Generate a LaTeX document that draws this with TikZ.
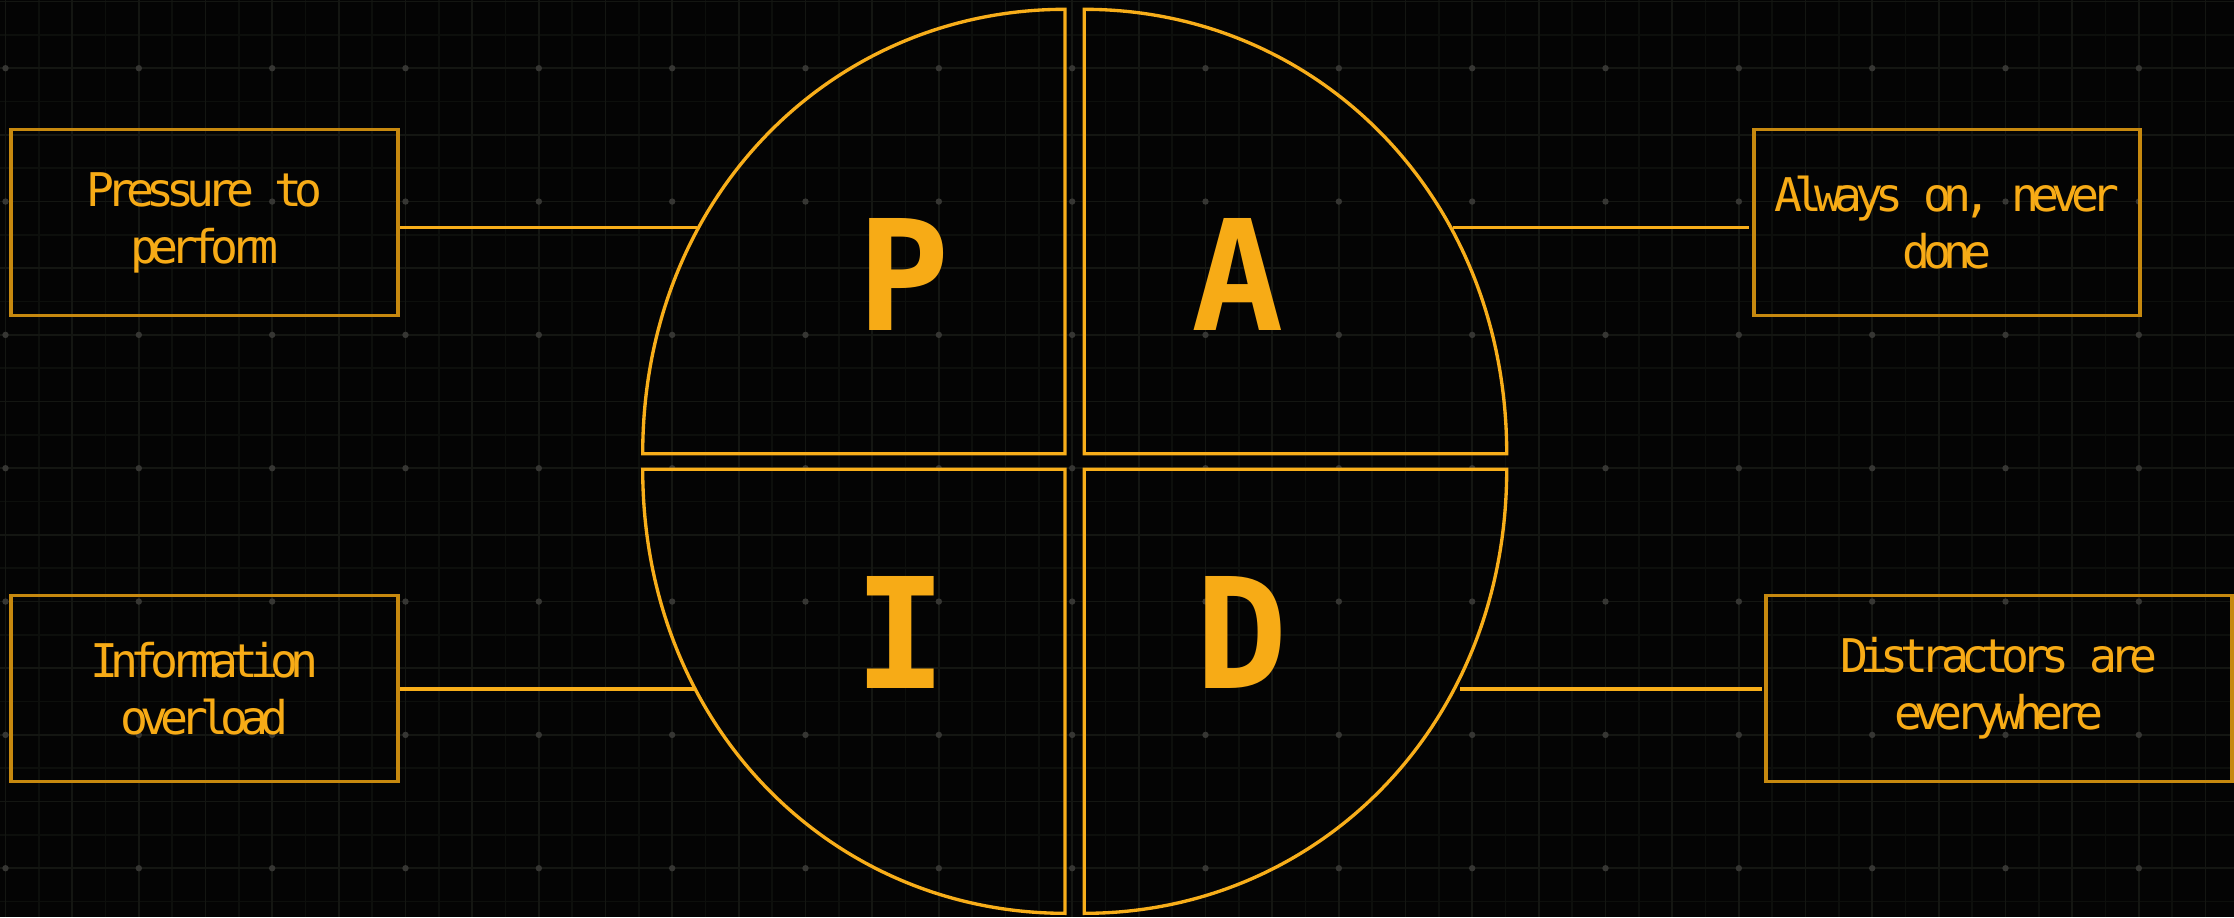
\documentclass[tikz,border=0pt]{standalone}
\usepackage{fontspec}
\newfontfamily\boxfont[LetterSpace=-17]{DejaVu Sans Mono}
\newfontfamily\bigfont{DejaVu Sans Mono}
\definecolor{amber}{HTML}{F8AE1A}
\definecolor{boxamber}{HTML}{C7890F}
\definecolor{txtamber}{HTML}{F7AB16}
\definecolor{bgblack}{HTML}{040404}
\definecolor{gridfaint}{HTML}{0D0F0C}
\definecolor{gridmain}{HTML}{141612}
\definecolor{dotgray}{HTML}{363633}
\begin{document}
\begin{tikzpicture}[x=0.01cm,y=-0.01cm,
  quad/.style={draw=amber, line width=0.95pt, line join=miter},
  link/.style={draw=amber, line width=0.95pt},
  infobox/.style={draw=boxamber, line width=1pt, minimum height=1.86cm,
    align=center, text=txtamber, inner sep=0pt,
    font=\boxfont\fontsize{13.2}{16.2}\selectfont},
  letter/.style={text=txtamber, anchor=base, inner sep=0pt,
    font=\bigfont\bfseries\fontsize{43.7}{50}\selectfont},
  gline/.style={draw=gridfaint, line width=0.4pt},
  gmain/.style={draw=gridmain, line width=0.5pt},
  gdot/.style={fill=dotgray, draw=none}
]
\useasboundingbox (0,0) rectangle (2234,917);
\fill[bgblack] (0,0) rectangle (2234,917);
% grid
\foreach \i in {0,...,66} \draw[gline] ({5.5+33.333*\i},0) -- ({5.5+33.333*\i},917);
\foreach \j in {0,...,27} \draw[gline] (0,{1.5+33.333*\j}) -- (2234,{1.5+33.333*\j});
\foreach \i in {0,...,33} \draw[gmain] ({5.5+66.667*\i},0) -- ({5.5+66.667*\i},917);
\foreach \j in {0,...,13} \draw[gmain] (0,{1.5+66.667*\j}) -- (2234,{1.5+66.667*\j});
\foreach \i in {0,...,16} \foreach \j in {0,...,6}
  \fill[gdot] ({5.5+133.333*\i},{68.2+133.333*\j}) circle (3.2);
% quadrants
\draw[quad] (1065,9.3) -- (1065,453.7) -- (642.7,453.7)
  .. controls (642.7,195.9) and (832.7,9.3) .. cycle;
\draw[quad] (1084.3,9.3) -- (1084.3,453.7) -- (1506.7,453.7)
  .. controls (1506.7,195.9) and (1316.6,9.3) .. cycle;
\draw[quad] (1065,469.3) -- (1065,913.3)
  .. controls (832.7,913.3) and (642.7,727.1) .. (642.7,469.3) -- cycle;
\draw[quad] (1084.3,469.3) -- (1084.3,913.3)
  .. controls (1316.6,913.3) and (1506.7,727.1) .. (1506.7,469.3) -- cycle;
% letters
\node[letter] (lP) at (904,330.7) {P};
\node[letter] (lA) at (1238,330.7) {A};
\node[letter] (lI) at (900.5,688) {I};
\node[letter] (lD) at (1241.6,688) {D};
% boxes
\node[infobox, minimum width=3.87cm] (boxP) at (204.5,222.5) {Pressure to\\perform};
\node[infobox, minimum width=3.86cm] (boxA) at (1947,222.5) {Always on, never\\done};
\node[infobox, minimum width=3.87cm] (boxI) at (204.5,688.3) {Information\\overload};
\node[infobox, minimum width=4.66cm] (boxD) at (1999,688.3) {Distractors are\\everywhere};
% connector ends on the arcs
\coordinate (pP) at (697,227.5);
\coordinate (pA) at (1452.7,227.5);
\coordinate (pI) at (694,689);
\coordinate (pD) at (1460,689);
\coordinate (eA) at (1749,227.5);
\coordinate (eD) at (1762,689);
\draw[link] (boxP.east |- pP) -- (pP);
\draw[link] (pA) -- (eA);
\draw[link] (boxI.east |- pI) -- (pI);
\draw[link] (pD) -- (eD);
\end{tikzpicture}
\end{document}
